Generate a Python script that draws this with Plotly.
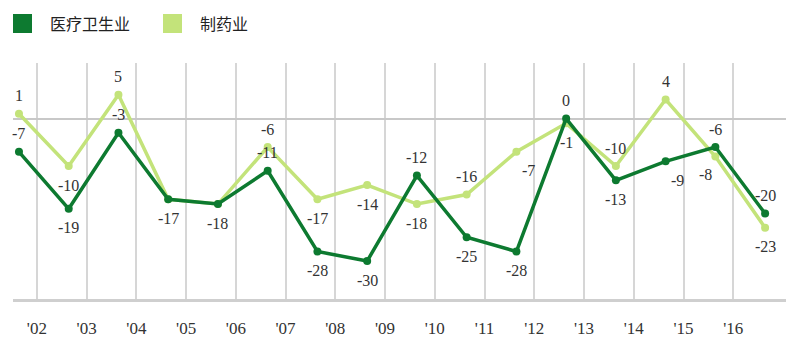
import plotly.graph_objects as go

years = ["'02", "'03", "'04", "'05", "'06", "'07", "'08", "'09", "'10", "'11", "'12", "'13", "'14", "'15", "'16"]
healthcare = [-7, -19, -3, -17, -18, -11, -28, -30, -12, -25, -28, 0, -13, -9, -6, -20]
pharma = [1, -10, 5, -17, -18, -6, -17, -14, -18, -16, -7, -1, -10, 4, -8, -23]
names = ["医疗卫生业", "制药业"]

# label placement: T = above, B = below, BR = below-right, BL = below-left, N = none
hc_pos = ["T", "B", "T", "B", "B", "T", "B", "B", "T", "B", "B", "T", "B", "BR", "T", "T"]
ph_pos = ["T", "B", "T", "N", "N", "T", "B", "B", "B", "T", "BR", "B", "T", "T", "BL", "B"]
OFFSETS = {"T": (0, 18), "B": (0, -19), "BR": (12, -19), "BL": (-10, -18)}

DARK = "#0d7a30"
LIGHT = "#c3e37a"
LABEL_FONT = dict(family="Liberation Serif", size=16, color="#333")
xs = list(range(len(healthcare)))
grid_pos = [i + 0.36 for i in range(len(years))]

fig = go.Figure()
for vals, col in [(pharma, LIGHT), (healthcare, DARK)]:
    fig.add_trace(go.Scatter(x=xs, y=vals, mode="lines+markers",
                             line=dict(color=col, width=3.5), marker=dict(color=col, size=8),
                             cliponaxis=False, showlegend=False, hoverinfo="skip"))
for vals, pos in [(pharma, ph_pos), (healthcare, hc_pos)]:
    for x, v, p in zip(xs, vals, pos):
        if p == "N":
            continue
        dx, dy = OFFSETS[p]
        fig.add_annotation(x=x, y=v, text=str(v), showarrow=False, xshift=dx, yshift=dy,
                           font=LABEL_FONT)

# legend drawn as squares + text
pw, ph = 773.0, 236.0
legend_items = [(0.0, DARK, names[0]), (150.0, LIGHT, names[1])]
for off, col, name in legend_items:
    fig.add_shape(type="rect", xref="paper", yref="paper", x0=off / pw, x1=(off + 19) / pw,
                  y0=(299 - 33) / ph, y1=(299 - 14) / ph, fillcolor=col, line=dict(width=0))
    fig.add_annotation(xref="paper", yref="paper", x=(off + 35) / pw, y=(299 - 23.5) / ph,
                       text=name, showarrow=False, xanchor="left", yanchor="middle",
                       font=dict(family="Noto Sans CJK SC", size=16, color="#222"))

fig.update_layout(
    width=806, height=352, margin=dict(l=13, r=20, t=63, b=53),
    paper_bgcolor="white", plot_bgcolor="white", showlegend=False,
    xaxis=dict(range=[-0.12, 15.42], tickmode="array", tickvals=grid_pos, ticktext=years,
               showgrid=True, gridcolor="#d6d6d6", gridwidth=1.5, zeroline=False,
               showline=True, linecolor="#cfcfcf", linewidth=2.5, ticks="", ticklabelstandoff=12,
               tickfont=dict(family="Liberation Serif", size=17, color="#333")),
    yaxis=dict(range=[-38, 11.7], showgrid=False, showticklabels=False, zeroline=True,
               zerolinecolor="#c8c8c8", zerolinewidth=1.5, ticks=""),
)
fig.write_html("out.html")
